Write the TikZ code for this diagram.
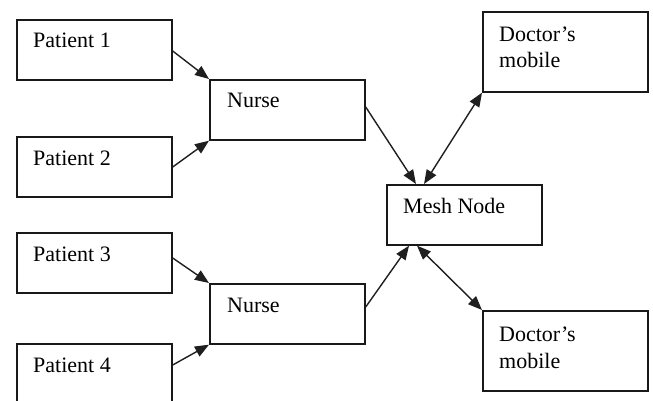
\documentclass[tikz,border=0pt]{standalone}
\usepackage{fontspec}
\setmainfont{Liberation Serif}
\usetikzlibrary{calc,arrows.meta}
\begin{document}
\begin{tikzpicture}[x=1pt,y=-1pt,
  box/.style={draw=black!90,line width=1.7pt,rectangle,inner sep=0pt,anchor=north west,
    minimum width=155pt,minimum height=60pt},
  wide/.style={minimum width=165pt,minimum height=80pt},
  txt/.style={anchor=base west,inner sep=0pt,text=black,font=\fontsize{22}{26}\selectfont},
  tip/.style={Triangle[length=14pt,width=11pt]},
  arr/.style={draw=black!88,line width=1.4pt,-{Triangle[length=14pt,width=11pt]}},
  darr/.style={draw=black!88,line width=1.4pt,{Triangle[length=14pt,width=11pt]}-{Triangle[length=14pt,width=11pt]}}]
\clip (0,0) rectangle (653,401);
\fill[white] (0,0) rectangle (653,401);
% boxes
\node[box] (p1) at (16,19) {};
\node[box] (p2) at (16,136) {};
\node[box] (p3) at (16,232) {};
\node[box] (p4) at (16,343) {};
\node[box] (n1) at (209,79) {};
\node[box] (n2) at (209,283) {};
\node[box] (mesh) at (386,184) {};
\node[box,wide] (d1) at (482,11) {};
\node[box,wide] (d2) at (482,310) {};
% labels
\node[txt] at ($(p1.north west)+(17,29)$) {Patient 1};
\node[txt] at ($(p2.north west)+(17,29)$) {Patient 2};
\node[txt] at ($(p3.north west)+(17,29)$) {Patient 3};
\node[txt] at ($(p4.north west)+(17,29)$) {Patient 4};
\node[txt] at ($(n1.north west)+(18,29)$) {Nurse};
\node[txt] at ($(n2.north west)+(18,29)$) {Nurse};
\node[txt] at ($(mesh.north west)+(17,29)$) {Mesh Node};
\node[txt] at ($(d1.north west)+(17,31)$) {Doctor’s};
\node[txt] at ($(d1.north west)+(17,57)$) {mobile};
\node[txt] at ($(d2.north west)+(17,31)$) {Doctor’s};
\node[txt] at ($(d2.north west)+(17,58)$) {mobile};
% connectors
\draw[arr] ($(p1.north east)+(0,32)$) -- (n1.north west);
\draw[arr] ($(p2.north east)+(0,31)$) -- (n1.south west);
\draw[arr] ($(p3.north east)+(0,26)$) -- (n2.north west);
\draw[arr] ($(p4.north east)+(0,22)$) -- (n2.south west);
\draw[arr] ($(n1.north east)+(0,28)$) -- ($(mesh.north west)+(30,0)$);
\draw[arr] ($(n2.north east)+(0,24)$) -- ($(mesh.south west)+(23,0)$);
\draw[darr] ($(mesh.north west)+(38,0)$) -- (d1.south west);
\draw[darr] ($(mesh.south west)+(31,0)$) -- (d2.north west);
\end{tikzpicture}
\end{document}
